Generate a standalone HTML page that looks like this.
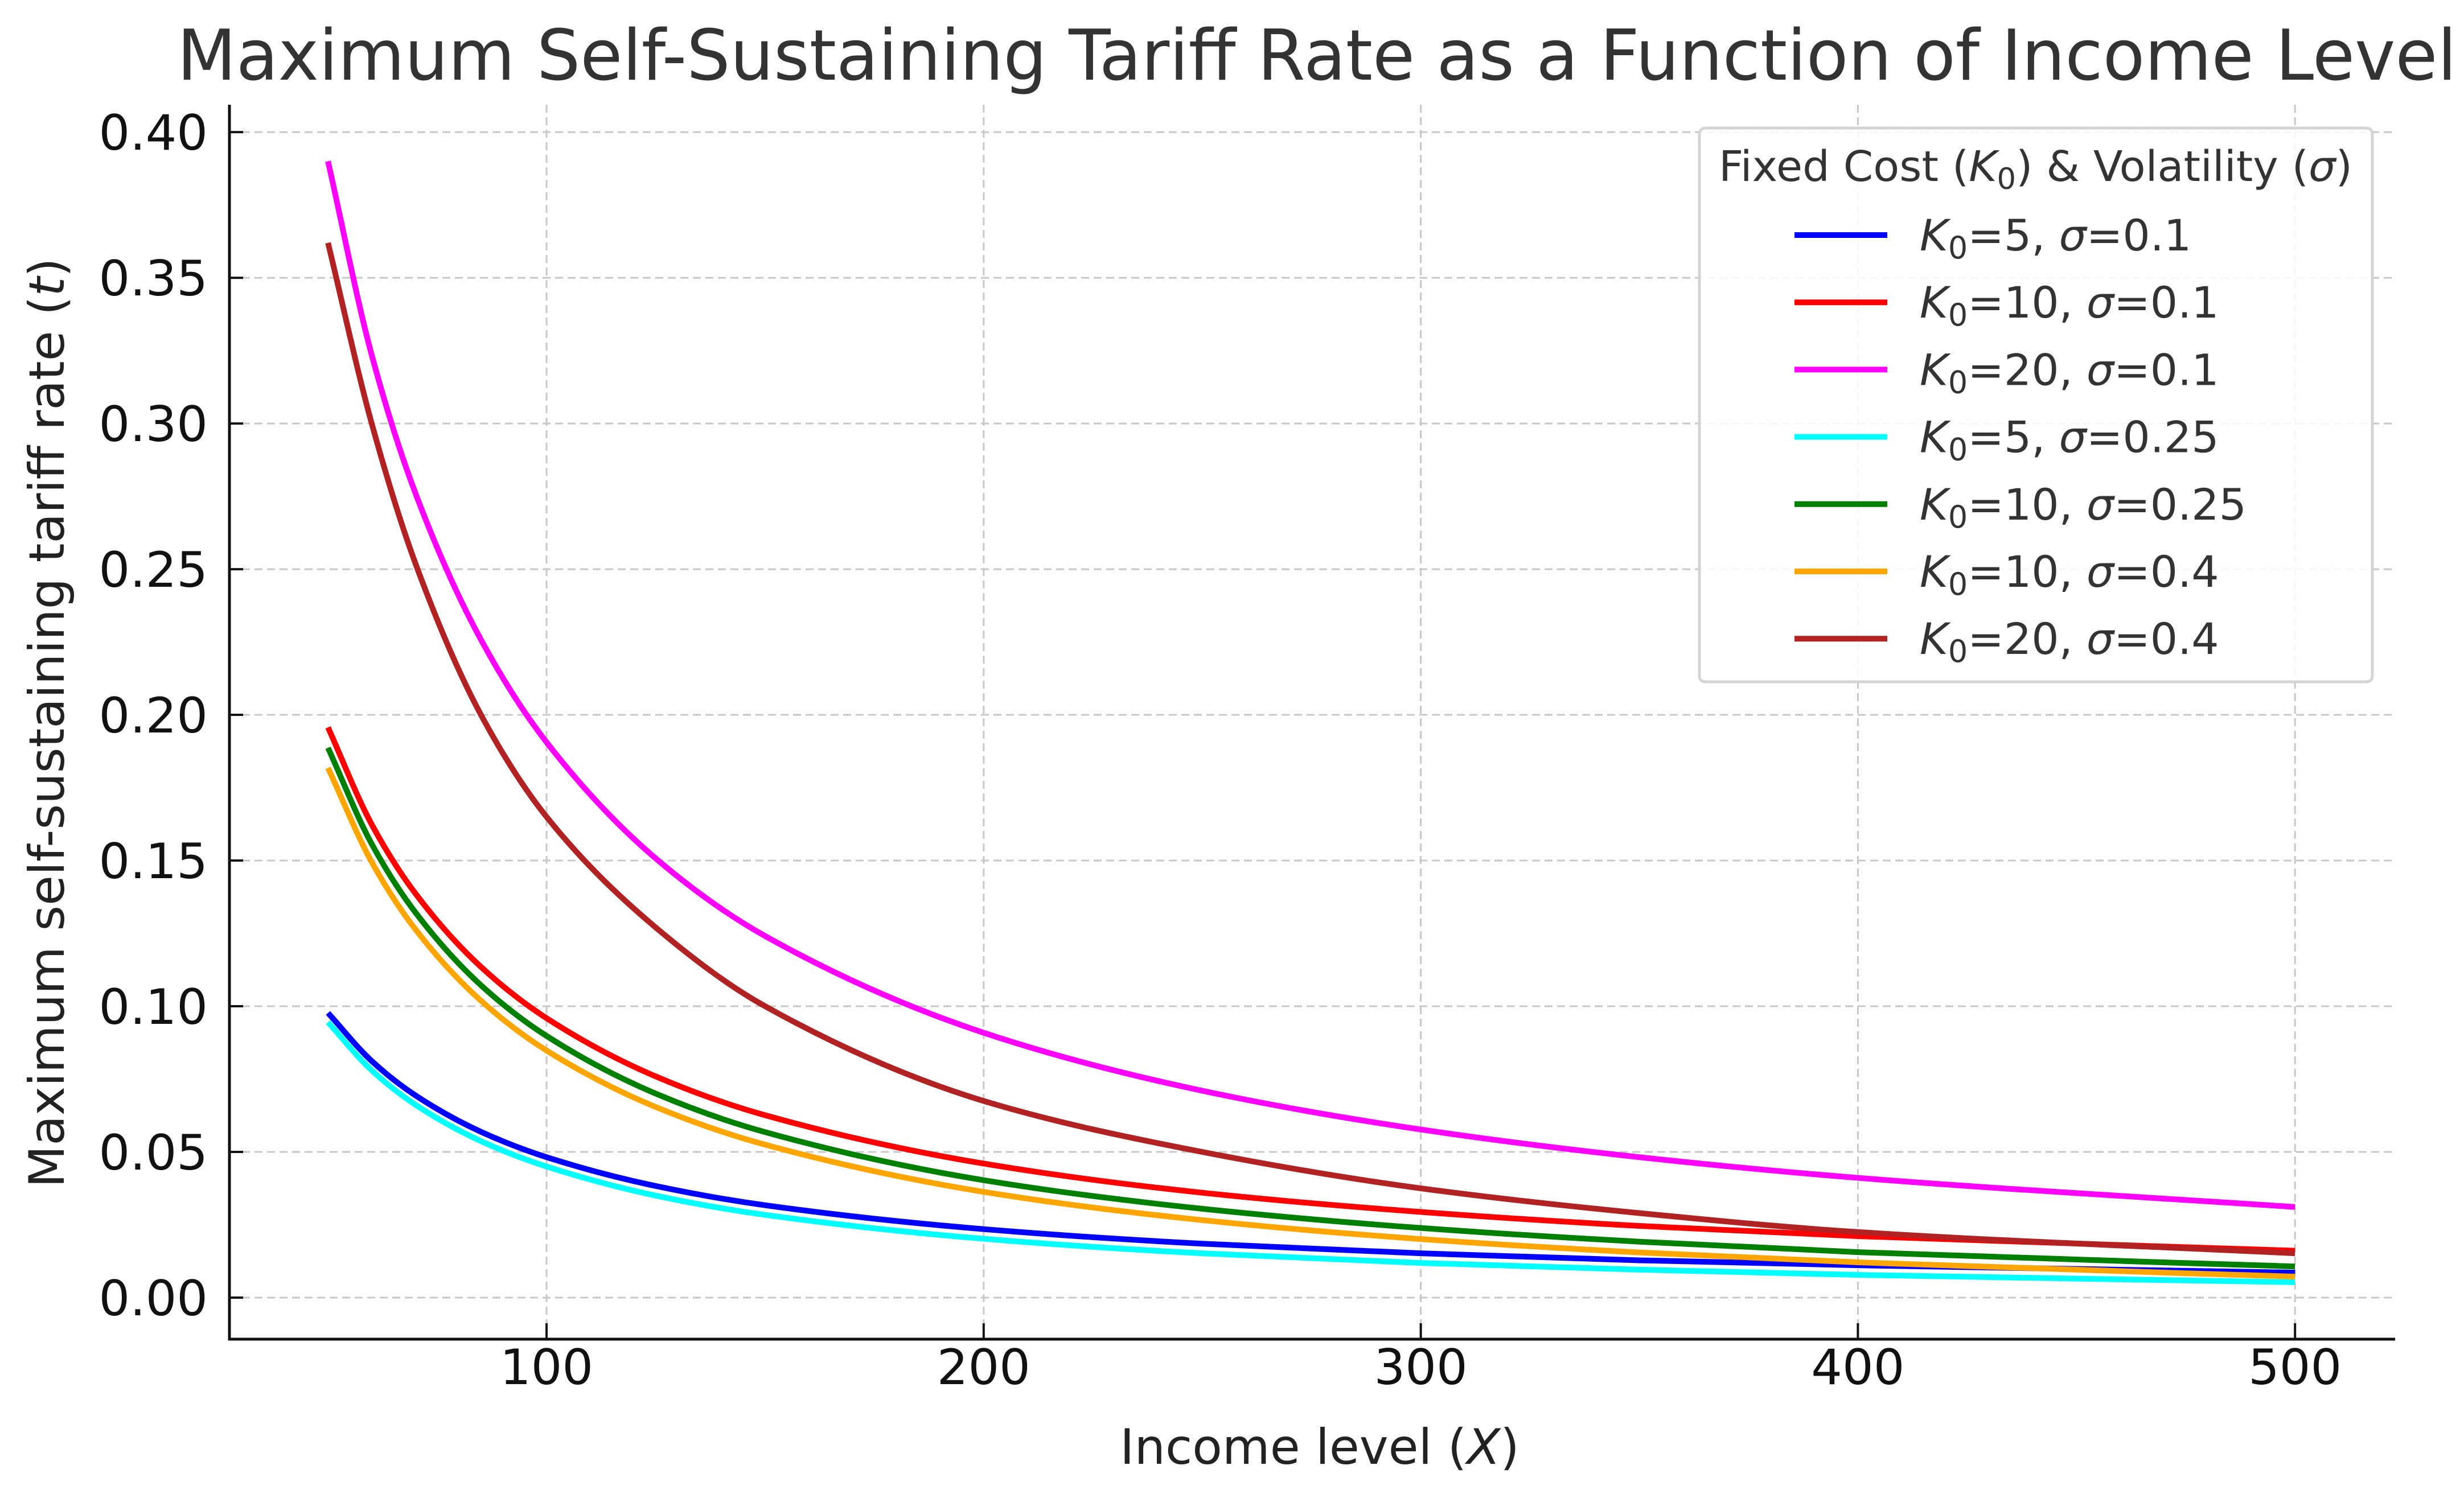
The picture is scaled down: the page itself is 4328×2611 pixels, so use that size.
<!DOCTYPE html>
<html><head><meta charset="utf-8"><style>
html,body{margin:0;padding:0;background:#fff;}
svg{display:block;font-family:"DejaVu Sans","Liberation Sans",sans-serif;}
</style></head><body>
<svg id="chart" width="4328" height="2611" viewBox="0 0 4328 2611" xmlns="http://www.w3.org/2000/svg">
<rect width="4328" height="2611" fill="#fff"/>
<g id="grid"></g>
<g id="series"></g>
<g id="axes"></g>
<text x="311" y="140" font-size="123" fill="#333" textLength="4004" lengthAdjust="spacingAndGlyphs">Maximum Self-Sustaining Tariff Rate as a Function of Income Level</text>
<text x="2318" y="2572" font-size="86" fill="#222" text-anchor="middle">Income level (<tspan font-style="italic">X</tspan>)</text>
<text transform="translate(112,1270) rotate(-90)" font-size="86" fill="#222" text-anchor="middle">Maximum self-sustaining tariff rate (<tspan font-style="italic">t</tspan>)</text>
<g>
<rect x="2985" y="225" width="1182" height="973" rx="10" fill="#fff" fill-opacity="0.85" stroke="#d4d4d4" stroke-width="5"/>
<text x="3019" y="318" font-size="74" fill="#333" textLength="1113" lengthAdjust="spacingAndGlyphs">Fixed Cost (<tspan font-style="italic">K</tspan><tspan font-size="52" dy="14">0</tspan><tspan dy="-14">) &amp; Volatility (</tspan><tspan font-style="italic">σ</tspan>)</text>
<g id="legend-entries"></g>
</g>
</svg>
<script>
const xVals = [50, 60, 70, 85, 100, 125, 150, 200, 250, 300, 350, 400, 500];
const blueK5s01     = [0.0977,0.0812,0.0694,0.0569,0.0482,0.0383,0.0317,0.0235,0.0185,0.0152,0.0128,0.0111,0.0086];
const redK10s01     = [0.1957,0.1624,0.1387,0.1135,0.0959,0.0759,0.0626,0.0460,0.0360,0.0294,0.0246,0.0211,0.0161];
const magentaK20s01 = [0.3900,0.3235,0.2761,0.2258,0.1906,0.1507,0.1241,0.0909,0.0710,0.0577,0.0482,0.0411,0.0311];
const cyanK5s025    = [0.0945,0.0780,0.0662,0.0537,0.0450,0.0350,0.0284,0.0202,0.0152,0.0119,0.0096,0.0078,0.0053];
const greenK10s025  = [0.1887,0.1557,0.1322,0.1072,0.0898,0.0700,0.0568,0.0403,0.0305,0.0239,0.0192,0.0156,0.0107];
const orangeK10s04  = [0.1818,0.1495,0.1264,0.1019,0.0848,0.0654,0.0525,0.0363,0.0266,0.0201,0.0155,0.0121,0.0072];
const brownK20s04   = [0.362,0.300,0.252,0.200,0.165,0.127,0.100,0.0675,0.0500,0.0375,0.0290,0.0225,0.0152];
const seriesLabels = [["5","0.1"],["10","0.1"],["20","0.1"],["5","0.25"],["10","0.25"],["10","0.4"],["20","0.4"]];
const xTicks = [100, 200, 300, 400, 500];
const yTicks = [0, 0.05, 0.10, 0.15, 0.20, 0.25, 0.30, 0.35, 0.40];
const yTickLabels = ["0.00","0.05","0.10","0.15","0.20","0.25","0.30","0.35","0.40"];

const NS = "http://www.w3.org/2000/svg";
const L = 403, R = 4207, T = 184, B = 2353;
const xMin = 27.45, xMax = 522.9, yMin = -0.01426, yMax = 0.4094;
function sx(v){ return L + (v - xMin) / (xMax - xMin) * (R - L); }
function sy(v){ return B - (v - yMin) / (yMax - yMin) * (B - T); }
function mk(tag, attrs, parent){ const e = document.createElementNS(NS, tag); for (const k in attrs) e.setAttribute(k, attrs[k]); parent.appendChild(e); return e; }

const grid = document.getElementById('grid');
const axes = document.getElementById('axes');
xTicks.forEach(v => {
  const g = mk('line', {x1:sx(v), x2:sx(v), y1:T, y2:B, stroke:'#c8c8c8', 'stroke-width':3, 'stroke-dasharray':'14 8'}, grid);
  
  
  const t = mk('line', {x1:sx(v), x2:sx(v), y1:B, y2:B-28, stroke:'#111', 'stroke-width':4}, axes);
  
  
  const lb = mk('text', {x:sx(v), y:2432, 'font-size':86, fill:'#111', 'text-anchor':'middle'}, axes);
  lb.textContent = String(v);
  
  
});
yTicks.forEach((v, i) => {
  const g = mk('line', {x1:L, x2:R, y1:sy(v), y2:sy(v), stroke:'#c8c8c8', 'stroke-width':3, 'stroke-dasharray':'14 8'}, grid);
  
  
  const t = mk('line', {x1:L, x2:L+24, y1:sy(v), y2:sy(v), stroke:'#111', 'stroke-width':4}, axes);
  
  
  const lb = mk('text', {x:365, y:sy(v)+31, 'font-size':86, fill:'#111', 'text-anchor':'end'}, axes);
  lb.textContent = yTickLabels[i];
  
  
});
const sp1 = mk('line', {x1:L, x2:L, y1:T, y2:B+2, stroke:'#111', 'stroke-width':5}, axes);


const sp2 = mk('line', {x1:L-2, x2:R, y1:B, y2:B, stroke:'#111', 'stroke-width':5}, axes);



// monotone cubic (Fritsch-Carlson) in pixel space
function smoothPath(xs, ys){
  const px = xs.map(sx), py = ys.map(sy), n = px.length;
  const d = [], m = new Array(n);
  for (let i = 0; i < n-1; i++) d.push((py[i+1]-py[i])/(px[i+1]-px[i]));
  m[0] = d[0]; m[n-1] = d[n-2];
  for (let i = 1; i < n-1; i++) {
    if (d[i-1]*d[i] <= 0) m[i] = 0;
    else { const h0 = px[i]-px[i-1], h1 = px[i+1]-px[i]; const w1 = 2*h1+h0, w2 = h1+2*h0; m[i] = (w1+w2)/(w1/d[i-1]+w2/d[i]); }
  }
  let s = 'M' + px[0] + ',' + py[0];
  for (let i = 0; i < n-1; i++) {
    const h = px[i+1]-px[i];
    s += ' C' + (px[i]+h/3) + ',' + (py[i]+m[i]*h/3) + ' ' + (px[i+1]-h/3) + ',' + (py[i+1]-m[i+1]*h/3) + ' ' + px[i+1] + ',' + py[i+1];
  }
  return s;
}
const seriesList = [
  [blueK5s01, '#0000ff', 'line-k5-s01'],
  [redK10s01, '#ff0000', 'line-k10-s01'],
  [magentaK20s01, '#ff00ff', 'line-k20-s01'],
  [cyanK5s025, '#00ffff', 'line-k5-s025'],
  [greenK10s025, '#008000', 'line-k10-s025'],
  [orangeK10s04, '#ffa500', 'line-k10-s04'],
  [brownK20s04, '#b22222', 'line-k20-s04']
];
const sg = document.getElementById('series');
seriesList.forEach(s => {
  const p = mk('path', {d:smoothPath(xVals, s[0]), fill:'none', stroke:s[1], 'stroke-width':10, 'stroke-linejoin':'round'}, sg);
  
  
});
const lg = document.getElementById('legend-entries');
seriesList.forEach((s, i) => {
  const y = 413 + i * 118.2;
  const ln = mk('line', {x1:3152, x2:3315, y1:y, y2:y, stroke:s[1], 'stroke-width':10}, lg);
  
  
  const t = mk('text', {x:3372, y:y+27, 'font-size':76, fill:'#333'}, lg);
  
  
  t.innerHTML = '<tspan font-style="italic">K</tspan><tspan font-size="54" dy="14">0</tspan><tspan dy="-14">=' + seriesLabels[i][0] + ', </tspan><tspan font-style="italic">σ</tspan><tspan>=' + seriesLabels[i][1] + '</tspan>';
});
</script>
</body></html>
